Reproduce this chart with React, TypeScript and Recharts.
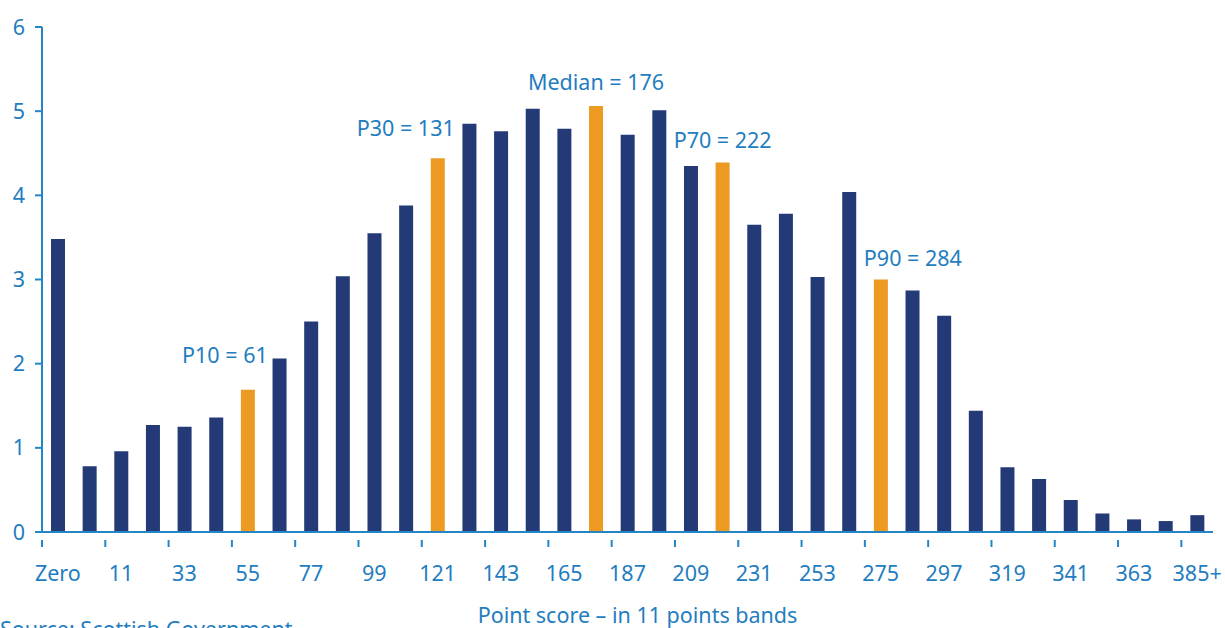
import { BarChart, Bar, XAxis, YAxis, Cell, LabelList } from 'recharts'

// score bands, 11 points each
const bands = [
  'Zero', '1', '11', '22', '33', '44', '55', '66', '77', '88', '99', '110', '121',
  '132', '143', '154', '165', '176', '187', '198', '209', '220', '231', '242',
  '253', '264', '275', '286', '297', '308', '319', '330', '341', '352', '363', '374', '385+',
]

// share of pupils (%)
const shares = [
  3.48, 0.78, 0.96, 1.27, 1.25, 1.36, 1.69, 2.06, 2.5, 3.04, 3.55, 3.88, 4.44,
  4.85, 4.76, 5.03, 4.79, 5.06, 4.72, 5.01, 4.35, 4.39, 3.65, 3.78, 3.03, 4.04,
  3.0, 2.87, 2.57, 1.44, 0.77, 0.63, 0.38, 0.22, 0.15, 0.13, 0.2,
]

// percentile markers (by band index)
const markerBands = [6, 12, 17, 21, 26]
const markerLabels = ['P10 = 61', 'P30 = 131', 'Median = 176', 'P70 = 222', 'P90 = 284']

const yTicks = [0, 1, 2, 3, 4, 5, 6]

const data = bands.map((band, i) => {
  const m = markerBands.indexOf(i)
  return { band, share: shares[i], marker: m >= 0 ? markerLabels[m] : '' }
})

const W = 1225
const H = 628
const LEFT = 42
const RIGHT = 12
const BLUE = '#2286c7'
const TEXT = '#1f7dc0'
const NAVY = '#233a77'
const ORANGE = '#ec9a22'
const FONT = '"Noto Sans", "Open Sans", sans-serif'
const FS = 21.5
const step = (W - LEFT - RIGHT) / bands.length

// label nudges so they don't sit on neighbouring bars
const labelShift: Record<string, [number, number]> = {
  'P10 = 61': [-23, -35],
  'P30 = 131': [-32, -30],
  'Median = 176': [0, -24],
  'P70 = 222': [0, -23],
  'P90 = 284': [32, -22],
}

function BandTick(props: any) {
  const { x, y, payload } = props
  return (
    <g>
      <line x1={x - step / 2} x2={x - step / 2} y1={y} y2={y + 7} stroke={BLUE} strokeWidth={2} />
      <text x={x} y={y + 41} textAnchor="middle" fill={TEXT} fontSize={FS} fontFamily={FONT}>
        {payload.value}
      </text>
    </g>
  )
}

function MarkerLabel(props: any) {
  const { x, y, width, value } = props
  if (!value) return null
  const [dx, dy] = labelShift[value] || [0, -24]
  return (
    <text
      x={x + width / 2 + dx}
      y={y + dy + 8}
      textAnchor="middle"
      fill={TEXT}
      fontSize={FS}
      fontFamily={FONT}
    >
      {value}
    </text>
  )
}

export default function App() {
  return (
    <div style={{ position: 'absolute', left: 0, top: 0, width: W, height: H, overflow: 'hidden', background: '#fff' }}>
      <BarChart width={W} height={H} data={data} margin={{ top: 27, right: RIGHT, bottom: 0, left: 0 }}>
        <XAxis
          dataKey="band"
          interval={1}
          tickLine={false}
          axisLine={{ stroke: BLUE, strokeWidth: 2 }}
          tick={<BandTick />}
          height={96}
          label={{
            value: 'Point score – in 11 points bands',
            position: 'insideBottom',
            offset: 5,
            dx: 10,
            fill: TEXT,
            fontSize: FS,
            fontFamily: FONT,
          }}
        />
        <YAxis
          domain={[0, 6]}
          ticks={yTicks}
          width={LEFT}
          tickSize={7}
          tickMargin={10}
          axisLine={{ stroke: BLUE, strokeWidth: 2 }}
          tickLine={{ stroke: BLUE, strokeWidth: 2 }}
          tick={{ fill: TEXT, fontSize: FS, fontFamily: FONT }}
        />
        <Bar dataKey="share" barSize={14} isAnimationActive={false}>
          {data.map((d, i) => (
            <Cell key={d.band} fill={markerBands.includes(i) ? ORANGE : NAVY} />
          ))}
          <LabelList dataKey="marker" content={<MarkerLabel />} />
        </Bar>
      </BarChart>
      <div
        style={{
          position: 'absolute',
          left: 0,
          top: 616,
          color: TEXT,
          fontSize: FS,
          fontFamily: FONT,
          whiteSpace: 'nowrap',
          lineHeight: '26px',
        }}
      >
        Source: Scottish Government
      </div>
    </div>
  )
}
